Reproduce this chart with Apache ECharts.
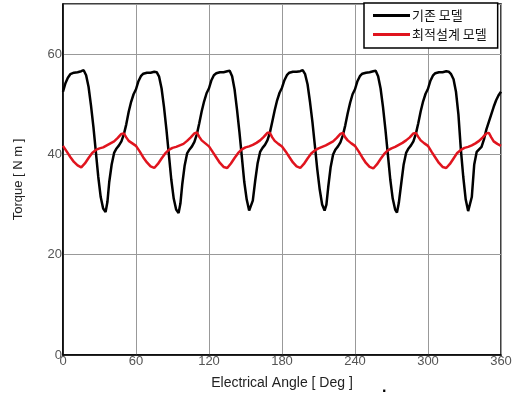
<!DOCTYPE html>
<html>
<head>
<meta charset="utf-8">
<script src="https://cdn.jsdelivr.net/npm/echarts@6/dist/echarts.min.js"></script>
<style>
html,body{margin:0;padding:0;background:#fff;}
#chart{width:518px;height:401px;}
</style>
</head>
<body>
<div id="chart"></div>
<script>
var seriesNames = ['기존 모델', '최적설계 모델'];
var xTicks = [0, 60, 120, 180, 240, 300, 360];
var yTicks = [0, 20, 40, 60];

var baseAngle = [
  0,2,4,6,9,12,15,17,19,21,23,25,27,29,31,33,35,36.5,38,40,42,44,46,48,50,52,54,56,58,
  60,62,64,66,69,72,75,77,79,81,83,85,87,89,91,93,95,96.5,98,100,102,104,106,108,110,112,114,116,118,
  120,122,124,126,129,132,135,137,139,141,143,145,147,149,151,153,154.5,156,158,160,162,164,166,168,170,172,174,176,178,
  180,182,184,186,189,192,195,197,199,201,203,205,207,209,211,213,215,216.5,218,220,222,224,226,228,230,232,234,236,238,
  240,242,244,246,249,252,255,257,259,261,263,265,267,269,271,273,274.5,276,278,280,282,284,286,288,290,292,294,296,298,
  300,302,304,306,309,312,315,317,319,321,323,325,327,329,331,333,334.5,336,338,340,342,344,346,348,350,352,354,356,358,360
];
var baseTorque = [
  52.5,54.2,55.3,56.0,56.3,56.4,56.6,56.8,55.8,53.5,49.8,45.5,40.5,35.5,31.5,29.2,28.5,30.5,34.5,38.0,40.3,41.2,41.8,42.6,44.0,46.0,48.5,50.5,52.0,
  53.0,54.6,55.6,56.1,56.3,56.3,56.5,56.4,55.5,53.2,49.5,45.0,40.0,35.0,31.2,29.0,28.3,30.2,34.0,37.8,40.2,41.0,41.6,42.5,44.0,46.2,48.6,50.6,52.2,
  53.2,54.8,55.8,56.2,56.4,56.4,56.6,56.7,55.6,53.0,49.0,44.5,39.5,34.5,31.0,28.8,28.5,30.8,34.8,38.3,40.5,41.3,41.9,42.8,44.3,46.5,48.8,50.8,52.3,
  53.3,54.8,55.8,56.3,56.5,56.5,56.6,56.8,56.0,54.0,50.5,46.5,41.8,37.0,33.0,30.0,28.8,30.0,33.5,37.5,40.0,41.0,41.6,42.4,43.8,45.8,48.2,50.3,52.0,
  53.0,54.6,55.6,56.1,56.3,56.4,56.6,56.7,55.6,53.2,49.5,45.0,40.0,35.0,31.2,29.0,28.4,30.3,34.2,38.0,40.3,41.2,41.8,42.6,44.1,46.2,48.6,50.6,52.1,
  53.1,54.7,55.7,56.2,56.4,56.4,56.6,56.5,56.0,55.0,52.5,48.0,41.0,35.5,31.0,28.7,28.5,31.5,38.0,40.5,41.0,41.5,43.0,45.0,46.5,48.0,49.5,50.8,51.8,52.5
];

var optAngle = [
  0,3,6,9,12,15,18,21,24,27,30,33,36,39,42,45,48,50,52,54,57,
  60,63,66,69,72,75,78,81,84,87,90,93,96,99,102,105,108,110,112,114,117,
  120,123,126,129,132,135,138,141,144,147,150,153,156,159,162,165,168,170,172,174,177,
  180,183,186,189,192,195,198,201,204,207,210,213,216,219,222,225,228,230,232,234,237,
  240,243,246,249,252,255,258,261,264,267,270,273,276,279,282,285,288,290,292,294,297,
  300,303,306,309,312,315,318,321,324,327,330,333,336,339,342,345,348,350,352,354,357,360
];
var optTorque = [
  41.7,40.6,39.5,38.5,37.8,37.4,38.2,39.3,40.3,40.9,41.2,41.4,41.8,42.2,42.6,43.3,44.1,44.2,43.4,42.7,42.2,
  41.7,40.6,39.4,38.4,37.6,37.3,38.1,39.2,40.2,40.9,41.3,41.5,41.8,42.1,42.7,43.4,44.2,44.4,43.5,42.8,42.2,
  41.6,40.5,39.4,38.3,37.5,37.3,38.2,39.3,40.3,41.0,41.4,41.6,41.9,42.3,42.8,43.5,44.3,44.3,43.4,42.7,42.1,
  41.6,40.6,39.5,38.4,37.6,37.3,38.1,39.2,40.2,40.8,41.2,41.5,41.8,42.2,42.6,43.3,44.1,44.3,43.4,42.8,42.2,
  41.7,40.6,39.4,38.3,37.5,37.2,38.0,39.1,40.1,40.8,41.2,41.5,41.9,42.3,42.8,43.4,44.2,44.3,43.5,42.8,42.2,
  41.7,40.5,39.4,38.3,37.5,37.3,38.1,39.2,40.3,40.9,41.3,41.5,41.8,42.2,42.7,43.4,44.2,44.3,43.4,42.6,42.1,41.7
];

function pairs(xs, ys) { return xs.map(function (x, i) { return [x, ys[i]]; }); }

var chart = echarts.init(document.getElementById('chart'), null, { renderer: 'canvas' });
chart.setOption({
  animation: false,
  backgroundColor: '#fff',
  grid: { left: 63, right: 17, top: 4, bottom: 46, show: true, borderColor: '#000', borderWidth: 1.5, backgroundColor: 'transparent' },
  xAxis: {
    type: 'value', min: xTicks[0], max: xTicks[xTicks.length - 1], interval: 60,
    name: 'Electrical Angle [ Deg ]', nameLocation: 'middle', nameGap: 21,
    nameTextStyle: { fontFamily: 'Liberation Sans', fontSize: 14, color: '#222' },
    axisLine: { show: true, lineStyle: { color: '#000', width: 1.5 } },
    axisTick: { show: false },
    axisLabel: { margin: 0, fontFamily: 'Liberation Sans', fontSize: 13, color: '#555' },
    splitLine: { show: true, lineStyle: { color: '#999', width: 1 } }
  },
  yAxis: {
    type: 'value', min: 0, max: 70, interval: 20,
    name: 'Torque [ N m ]', nameLocation: 'middle', nameGap: 38, nameRotate: 90,
    nameTextStyle: { fontFamily: 'Liberation Sans', fontSize: 13, color: '#222' },
    axisLine: { show: true, lineStyle: { color: '#000', width: 1.5 } },
    axisTick: { show: false },
    axisLabel: { margin: 1, fontFamily: 'Liberation Sans', fontSize: 13, color: '#555', showMaxLabel: false,
      formatter: function (v) { return yTicks.indexOf(v) >= 0 ? String(v) : ''; } },
    splitLine: { show: true, lineStyle: { color: '#999', width: 1 } }
  },
  legend: {
    orient: 'vertical', left: 364, top: 3,
    padding: [6, 11, 7, 9], itemGap: 6,
    backgroundColor: '#fff', borderColor: '#000', borderWidth: 1.5,
    icon: 'rect', itemWidth: 37, itemHeight: 3,
    textStyle: { fontFamily: 'Noto Sans CJK KR', fontSize: 13, color: '#111', padding: [0, 0, 0, -3] },
    data: seriesNames
  },
  graphic: [{
    type: 'text', left: 382, top: 380,
    style: { text: '.', fontFamily: 'Liberation Sans', fontSize: 16, fontWeight: 'bold', fill: '#000' }
  }],
  series: [
    { name: seriesNames[0], type: 'line', data: pairs(baseAngle, baseTorque), showSymbol: false, symbol: 'none',
      lineStyle: { color: '#000', width: 2.5 }, itemStyle: { color: '#000' }, z: 3 },
    { name: seriesNames[1], type: 'line', data: pairs(optAngle, optTorque), showSymbol: false, symbol: 'none',
      lineStyle: { color: '#e0141e', width: 2.5 }, itemStyle: { color: '#e0141e' }, z: 4 }
  ]
});
</script>
</body>
</html>
